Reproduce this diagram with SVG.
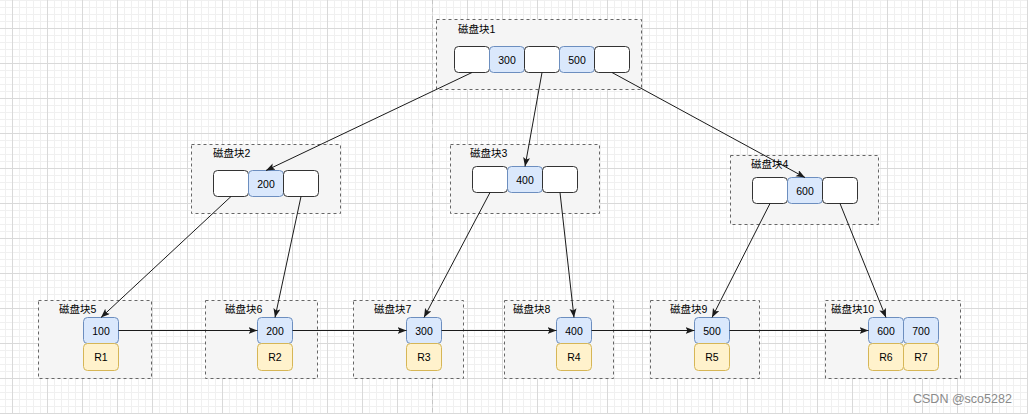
<svg xmlns="http://www.w3.org/2000/svg" width="1028" height="414" viewBox="0 0 1028 414">
<defs>
<pattern id="grid" patternUnits="userSpaceOnUse" x="12" y="28" width="35" height="35">
<path d="M7.5 0V35M14.5 0V35M21.5 0V35M28.5 0V35M0 7.5H35M0 14.5H35M0 21.5H35M0 28.5H35" stroke="#f0f0f0" stroke-width="1" fill="none"/>
<path d="M0.5 0V35M0 0.5H35" stroke="#d9d9d9" stroke-width="1" fill="none"/>
</pattern>
<marker id="arr" markerUnits="userSpaceOnUse" markerWidth="10" markerHeight="8" refX="9" refY="3.5" orient="auto">
<path d="M0,0 L9,3.5 L0,7 L2,3.5 Z" fill="#1a1a1a"/>
</marker>
</defs>
<style>
.cont{fill:#f5f5f5;stroke:#666;stroke-width:1;stroke-dasharray:3 3}
.w{fill:#fff;stroke:#333;stroke-width:1}
.b{fill:#dae8fc;stroke:#6c8ebf;stroke-width:1}
.y{fill:#fff2cc;stroke:#d6b656;stroke-width:1}
.lbl{font-family:"Liberation Sans","Noto Sans CJK SC",sans-serif;font-size:10.5px;fill:#000}
.t{font-family:"Liberation Sans",Arial,sans-serif;font-size:10.5px;fill:#000;text-anchor:middle;dominant-baseline:central}
.e{stroke:#1a1a1a;stroke-width:1;fill:none;marker-end:url(#arr)}
</style>
<rect width="1028" height="414" fill="#fff"/>
<rect width="1028" height="414" fill="url(#grid)"/>
<line x1="432.5" y1="0" x2="432.5" y2="414" stroke="#c4c4c4" stroke-width="1" stroke-dasharray="4 4"/>

<g id="block1">
<rect class="cont" x="436.5" y="19.5" width="205" height="70"/>
<text class="lbl" x="458" y="33">磁盘块1</text>
<rect class="w" x="454.5" y="46.5" width="35" height="26" rx="4"/>
<rect class="b" x="489.5" y="46.5" width="35" height="26" rx="4"/>
<text class="t" x="507" y="59.5">300</text>
<rect class="w" x="524.5" y="46.5" width="35" height="26" rx="4"/>
<rect class="b" x="559.5" y="46.5" width="35" height="26" rx="4"/>
<text class="t" x="577" y="59.5">500</text>
<rect class="w" x="594.5" y="46.5" width="35" height="26" rx="4"/>
</g>

<g id="block2">
<rect class="cont" x="191.5" y="144.5" width="149" height="69"/>
<text class="lbl" x="213" y="157">磁盘块2</text>
<rect class="w" x="213.5" y="170.5" width="35" height="26" rx="4"/>
<rect class="b" x="248.5" y="170.5" width="35" height="26" rx="4"/>
<text class="t" x="266" y="183.5">200</text>
<rect class="w" x="283.5" y="170.5" width="35" height="26" rx="4"/>
</g>

<g id="block3">
<rect class="cont" x="450.5" y="144.5" width="149" height="69"/>
<text class="lbl" x="470" y="157">磁盘块3</text>
<rect class="w" x="472.5" y="166.5" width="35" height="26" rx="4"/>
<rect class="b" x="507.5" y="166.5" width="35" height="26" rx="4"/>
<text class="t" x="525" y="179.5">400</text>
<rect class="w" x="542.5" y="166.5" width="35" height="26" rx="4"/>
</g>

<g id="block4">
<rect class="cont" x="730.5" y="155.5" width="148" height="69"/>
<text class="lbl" x="751" y="168">磁盘块4</text>
<rect class="w" x="752.5" y="177.5" width="35" height="26" rx="4"/>
<rect class="b" x="787.5" y="177.5" width="35" height="26" rx="4"/>
<text class="t" x="805" y="190.5">600</text>
<rect class="w" x="822.5" y="177.5" width="35" height="26" rx="4"/>
</g>

<g id="block5">
<rect class="cont" x="38.5" y="300.5" width="113" height="78"/>
<text class="lbl" x="59" y="313">磁盘块5</text>
<rect class="b" x="83.5" y="317.5" width="35" height="26" rx="4"/>
<text class="t" x="101" y="330.5">100</text>
<rect class="y" x="83.5" y="343.5" width="35" height="27" rx="4"/>
<text class="t" x="101" y="357">R1</text>
</g>

<g id="block6">
<rect class="cont" x="205.5" y="300.5" width="112" height="78"/>
<text class="lbl" x="225" y="313">磁盘块6</text>
<rect class="b" x="257.5" y="317.5" width="35" height="26" rx="4"/>
<text class="t" x="275" y="330.5">200</text>
<rect class="y" x="257.5" y="343.5" width="35" height="27" rx="4"/>
<text class="t" x="275" y="357">R2</text>
</g>

<g id="block7">
<rect class="cont" x="353.5" y="300.5" width="110" height="78"/>
<text class="lbl" x="374" y="313">磁盘块7</text>
<rect class="b" x="406.5" y="317.5" width="35" height="26" rx="4"/>
<text class="t" x="424" y="330.5">300</text>
<rect class="y" x="406.5" y="343.5" width="35" height="27" rx="4"/>
<text class="t" x="424" y="357">R3</text>
</g>

<g id="block8">
<rect class="cont" x="504.5" y="300.5" width="109" height="78"/>
<text class="lbl" x="513" y="313">磁盘块8</text>
<rect class="b" x="556.5" y="317.5" width="35" height="26" rx="4"/>
<text class="t" x="574" y="330.5">400</text>
<rect class="y" x="556.5" y="343.5" width="35" height="27" rx="4"/>
<text class="t" x="574" y="357">R4</text>
</g>

<g id="block9">
<rect class="cont" x="650.5" y="300.5" width="109" height="78"/>
<text class="lbl" x="670" y="313">磁盘块9</text>
<rect class="b" x="694.5" y="317.5" width="35" height="26" rx="4"/>
<text class="t" x="712" y="330.5">500</text>
<rect class="y" x="694.5" y="343.5" width="35" height="27" rx="4"/>
<text class="t" x="712" y="357">R5</text>
</g>

<g id="block10">
<rect class="cont" x="825.5" y="300.5" width="135" height="78"/>
<text class="lbl" x="831" y="313">磁盘块10</text>
<rect class="b" x="868.5" y="317.5" width="35" height="26" rx="4"/>
<text class="t" x="886" y="330.5">600</text>
<rect class="b" x="903.5" y="317.5" width="35" height="26" rx="4"/>
<text class="t" x="921" y="330.5">700</text>
<rect class="y" x="868.5" y="343.5" width="35" height="27" rx="4"/>
<text class="t" x="886" y="357">R6</text>
<rect class="y" x="903.5" y="343.5" width="35" height="27" rx="4"/>
<text class="t" x="921" y="357">R7</text>
</g>

<g id="connectors">
<line class="e" x1="472" y1="72.5" x2="266" y2="170.5"/>
<line class="e" x1="542" y1="72.5" x2="525" y2="166.5"/>
<line class="e" x1="612" y1="72.5" x2="805" y2="177.5"/>
<line class="e" x1="231" y1="196.5" x2="101" y2="317.5"/>
<line class="e" x1="301" y1="196.5" x2="275" y2="317.5"/>
<line class="e" x1="490" y1="192.5" x2="424" y2="317.5"/>
<line class="e" x1="560" y1="192.5" x2="574" y2="317.5"/>
<line class="e" x1="770" y1="203.5" x2="712" y2="317.5"/>
<line class="e" x1="840" y1="203.5" x2="886" y2="317.5"/>
<line class="e" x1="118.5" y1="330.5" x2="257.5" y2="330.5"/>
<line class="e" x1="292.5" y1="330.5" x2="406.5" y2="330.5"/>
<line class="e" x1="441.5" y1="330.5" x2="556.5" y2="330.5"/>
<line class="e" x1="591.5" y1="330.5" x2="694.5" y2="330.5"/>
<line class="e" x1="729.5" y1="330.5" x2="868.5" y2="330.5"/>
</g>

<text x="913" y="403" style="font-family:'Liberation Sans',Arial,sans-serif;font-size:12.5px;fill:#8a8a8a">CSDN @sco5282</text>
</svg>
